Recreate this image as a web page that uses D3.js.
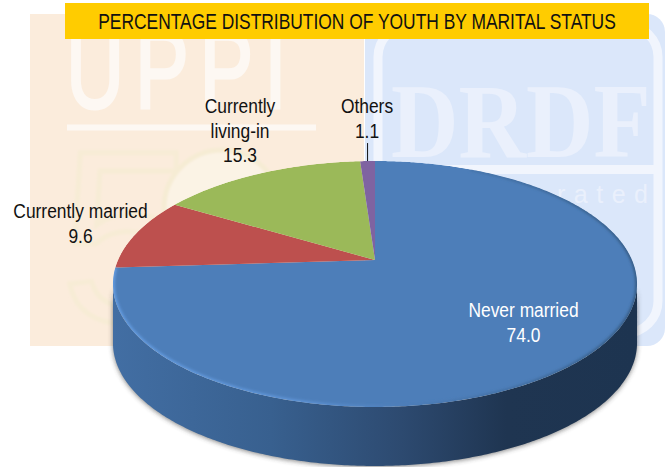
<!DOCTYPE html>
<html>
  <head>
    <meta charset="utf-8">
    <script src="https://d3js.org/d3.v7.min.js"></script>
    <style>
      html, body { margin: 0; padding: 0; background: #fff; overflow: hidden; }
      text { font-family: "Liberation Sans", Arial, sans-serif; }
    </style>
  </head>
  <body>
    <script>

      // data
      var categories = ["Never married", "Currently married", "Currently living-in", "Others"];
      var values = [74.0, 9.6, 15.3, 1.1];
      var colors = ["#4d7eb9", "#bd504e", "#9bb959", "#7f63a1"];
      var title = "PERCENTAGE DISTRIBUTION OF YOUTH BY MARITAL STATUS";

      var w = 665, h = 467;

      var svg = d3.select("body")
        .append("svg")
        .attr("width", w)
        .attr("height", h)
        .style("display", "block");

      var defs = svg.append("defs");

      defs.append("filter").attr("id", "shadow")
        .attr("x", "-10%").attr("y", "-10%").attr("width", "120%").attr("height", "120%")
        .append("feGaussianBlur").attr("stdDeviation", 2.5);
      defs.append("filter").attr("id", "bevel")
        .attr("x", "-10%").attr("y", "-10%").attr("width", "120%").attr("height", "120%")
        .append("feGaussianBlur").attr("stdDeviation", 1.5);
      defs.append("filter").attr("id", "haze")
        .attr("x", "-10%").attr("y", "-10%").attr("width", "120%").attr("height", "120%")
        .append("feGaussianBlur").attr("stdDeviation", 0.8);

      var wallGrad = defs.append("linearGradient").attr("id", "wall")
        .attr("gradientUnits", "userSpaceOnUse")
        .attr("x1", 114).attr("x2", 637).attr("y1", 0).attr("y2", 0);
      wallGrad.selectAll("stop")
        .data([[0, "#426ea3"], [0.3, "#38608f"], [0.55, "#2d4a70"], [0.75, "#1f3551"], [1, "#1d3450"]])
        .enter().append("stop")
        .attr("offset", function(d) { return d[0]; })
        .attr("stop-color", function(d) { return d[1]; });

      var rimGrad = defs.append("linearGradient").attr("id", "rim")
        .attr("gradientUnits", "userSpaceOnUse")
        .attr("x1", 114).attr("x2", 637).attr("y1", 0).attr("y2", 0);
      rimGrad.selectAll("stop")
        .data([[0, "#69a3ea"], [0.35, "#6298dc"], [0.55, "#4d7eb9"], [0.8, "#3d6898"], [1, "#2f5378"]])
        .enter().append("stop")
        .attr("offset", function(d) { return d[0]; })
        .attr("stop-color", function(d) { return d[1]; });

      // faded logos behind the chart
      var bg = svg.append("g").attr("class", "watermark");

      bg.append("rect").attr("x", 30).attr("y", 14).attr("width", 334).attr("height", 332)
        .attr("fill", "#fbecdc");
      bg.append("rect").attr("x", 365).attr("y", 14).attr("width", 300).attr("height", 332)
        .attr("rx", 18).attr("fill", "#dbe7fa");

      bg.append("text").text("UPPI")
        .attr("transform", "translate(66,108) scale(0.72,1)")
        .attr("font-size", 112)
        .attr("letter-spacing", 15)
        .attr("fill", "#fdf8f3")
        .attr("stroke", "#fdf8f3")
        .attr("stroke-width", 3);
      bg.append("rect").attr("x", 67).attr("y", 124.5).attr("width", 249).attr("height", 6)
        .attr("fill", "#fdf8f3");

      var emblem = bg.append("g").attr("filter", "url(#haze)");
      emblem.append("text").text("5")
        .attr("x", 60).attr("y", 322)
        .attr("font-size", 245)
        .attr("fill", "none")
        .attr("stroke", "#f7ecd5")
        .attr("stroke-width", 5);
      emblem.append("circle").attr("cx", 222).attr("cy", 208).attr("r", 58)
        .attr("fill", "#fbf3e5")
        .attr("stroke", "#f6ecd4")
        .attr("stroke-width", 5);

      bg.append("rect").attr("x", 378).attr("y", 25).attr("width", 280).attr("height", 308)
        .attr("rx", 32).attr("fill", "none")
        .attr("stroke", "#f1f5fd").attr("stroke-width", 9);
      bg.append("rect").attr("x", 380).attr("y", 165).attr("width", 276).attr("height", 9)
        .attr("fill", "#f1f5fd");
      bg.append("text").text("DRDF")
        .attr("transform", "translate(391,157) scale(0.89,1)")
        .style("font-family", "'Liberation Serif', serif")
        .attr("font-size", 105)
        .attr("font-weight", 700)
        .attr("fill", "#eaf0fc");
      bg.append("text").text("rated")
        .attr("x", 557).attr("y", 203)
        .attr("font-size", 25)
        .attr("letter-spacing", 8.5)
        .attr("fill", "#eaf0fc");

      // banner with the title
      svg.append("rect").attr("x", 65).attr("y", 3).attr("width", 584).attr("height", 36)
        .attr("fill", "#ffcc00");
      svg.append("text").text(title)
        .attr("transform", "translate(357,29) scale(0.81,1)")
        .attr("text-anchor", "middle")
        .attr("font-size", 21.5)
        .attr("fill", "#111");

      // the tilted disc: unit circle (u, v) seen through a perspective divide
      var centerX = 375, apexY = 260;
      var scaleU = 257, scaleV = 118.3, tilt = -0.195, depth = 59;

      function project(angle) {
        var u = Math.sin(angle), v = -Math.cos(angle);
        var d = 1 + tilt * v;
        return [centerX + scaleU * u / d, apexY + scaleV * v / d];
      }

      function arcPoints(a0, a1) {
        var pts = d3.range(a0, a1, 0.01).map(project);
        pts.push(project(a1));
        return pts;
      }

      var line = d3.line();

      var pie = d3.pie().sort(null).startAngle(0).endAngle(2 * Math.PI);
      var slices = pie(values);

      // front rim, from the right silhouette round the bottom to the left one
      var rightSide = Math.PI - Math.atan2(Math.sqrt(1 - tilt * tilt), -tilt);
      var leftSide = 2 * Math.PI - rightSide;
      var front = arcPoints(rightSide, leftSide);
      var frontShifted = front.map(function(p) { return [p[0], p[1] + depth]; }).reverse();
      var wallPath = line(front.concat(frontShifted)) + "Z";

      svg.append("path")
        .attr("d", wallPath)
        .attr("fill", "#333")
        .attr("opacity", 0.6)
        .attr("filter", "url(#shadow)")
        .attr("transform", "translate(0,1)");

      svg.append("path")
        .attr("d", wallPath)
        .attr("fill", "url(#wall)");

      // top face
      var wholeRim = line(arcPoints(0, 2 * Math.PI)) + "Z";
      defs.append("clipPath").attr("id", "face")
        .append("path").attr("d", wholeRim);

      var face = svg.append("g").attr("clip-path", "url(#face)");

      face.selectAll("path.slice")
        .data(slices)
        .enter()
        .append("path")
        .attr("class", "slice")
        .attr("d", function(d) {
          return line([[centerX, apexY]].concat(arcPoints(d.startAngle, d.endAngle))) + "Z";
        })
        .attr("fill", function(d, i) { return colors[i]; });

      // rim bevel on the blue part only
      face.append("path")
        .attr("d", line(arcPoints(slices[0].startAngle + 0.45, slices[0].endAngle)))
        .attr("fill", "none")
        .attr("stroke", "url(#rim)")
        .attr("stroke-width", 3)
        .attr("filter", "url(#bevel)");

      // labels
      var labelLines = [
        [categories[0], values[0].toFixed(1)],
        [categories[1], values[1].toFixed(1)],
        ["Currently", "living-in", values[2].toFixed(1)],
        [categories[3], values[3].toFixed(1)]
      ];
      var labelX = [523.5, 80.5, 240, 367];
      var labelY = [317, 218, 113, 113];
      var labelStep = 24.6;

      svg.selectAll("text.label")
        .data(labelLines)
        .enter()
        .append("text")
        .attr("class", "label")
        .attr("text-anchor", "middle")
        .attr("font-size", 20)
        .attr("transform", function(d, i) { return "translate(" + labelX[i] + ",0) scale(0.87,1)"; })
        .attr("fill", function(d, i) { return i === 0 ? "#fff" : "#111"; })
        .each(function(d, i) {
          d3.select(this).selectAll("tspan")
            .data(d)
            .enter()
            .append("tspan")
            .attr("x", 0)
            .attr("y", function(t, j) { return labelY[i] + j * labelStep; })
            .text(function(t) { return t; });
        });

      // leader line for the thin slice
      var othersMid = project((slices[3].startAngle + slices[3].endAngle) / 2);
      svg.append("line")
        .attr("x1", othersMid[0]).attr("x2", othersMid[0])
        .attr("y1", othersMid[1] - 18).attr("y2", othersMid[1])
        .attr("stroke", "#111")
        .attr("stroke-width", 1);

    </script>
  </body>
</html>
